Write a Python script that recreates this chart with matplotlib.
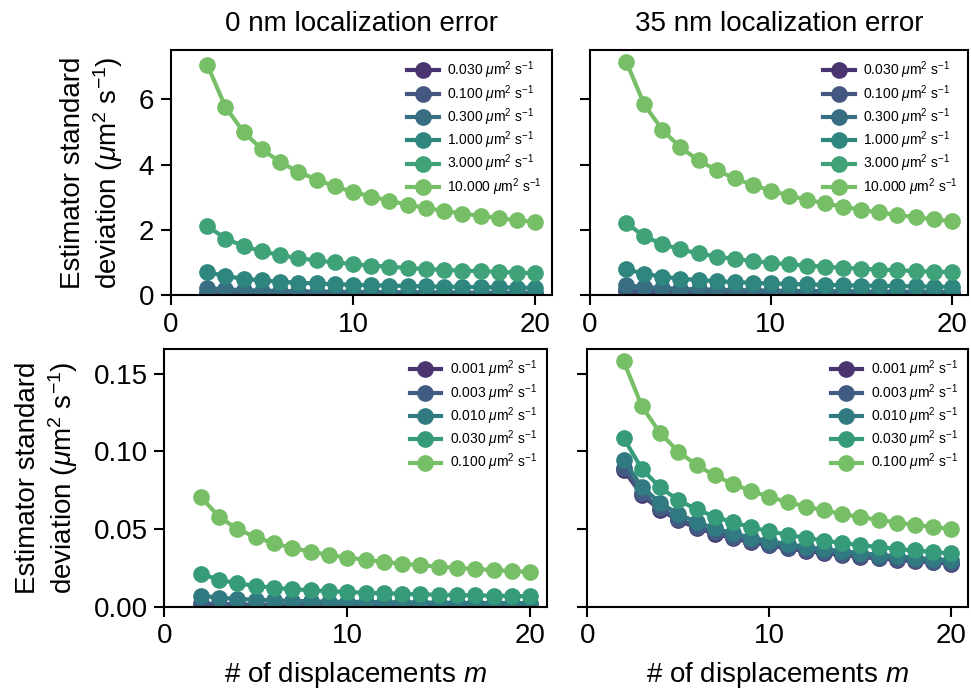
import numpy as np
import matplotlib
matplotlib.use("Agg")
import matplotlib.pyplot as plt
from matplotlib import cm
import colorsys

plt.rcParams["font.family"] = ["Liberation Sans", "DejaVu Sans"]
plt.rcParams["mathtext.fontset"] = "custom"
plt.rcParams["mathtext.rm"] = "Liberation Sans"
plt.rcParams["mathtext.it"] = "Liberation Sans:italic"
plt.rcParams["mathtext.bf"] = "Liberation Sans:bold"

# number of displacements
m_values = list(range(2, 21))

# diffusion coefficients (um^2/s)
d_high = [0.03, 0.1, 0.3, 1.0, 3.0, 10.0]
d_low = [0.001, 0.003, 0.01, 0.03, 0.1]

# estimator standard deviation, 0 nm localization error, high D
std_high_0nm = [
    [0.0212, 0.0173, 0.0150, 0.0134, 0.0122, 0.0113, 0.0106, 0.0100, 0.0095, 0.0090, 0.0087, 0.0083, 0.0080, 0.0077, 0.0075, 0.0073, 0.0071, 0.0069, 0.0067],
    [0.0707, 0.0577, 0.0500, 0.0447, 0.0408, 0.0378, 0.0354, 0.0333, 0.0316, 0.0302, 0.0289, 0.0277, 0.0267, 0.0258, 0.0250, 0.0243, 0.0236, 0.0229, 0.0224],
    [0.212, 0.173, 0.150, 0.134, 0.122, 0.113, 0.106, 0.100, 0.095, 0.090, 0.087, 0.083, 0.080, 0.077, 0.075, 0.073, 0.071, 0.069, 0.067],
    [0.707, 0.577, 0.500, 0.447, 0.408, 0.378, 0.354, 0.333, 0.316, 0.302, 0.289, 0.277, 0.267, 0.258, 0.250, 0.243, 0.236, 0.229, 0.224],
    [2.12, 1.73, 1.50, 1.34, 1.22, 1.13, 1.06, 1.00, 0.95, 0.90, 0.87, 0.83, 0.80, 0.77, 0.75, 0.73, 0.71, 0.69, 0.67],
    [7.07, 5.77, 5.00, 4.47, 4.08, 3.78, 3.54, 3.33, 3.16, 3.02, 2.89, 2.77, 2.67, 2.58, 2.50, 2.43, 2.36, 2.29, 2.24],
]

# estimator standard deviation, 35 nm localization error, high D
std_high_35nm = [
    [0.1085, 0.0886, 0.0768, 0.0686, 0.0627, 0.0580, 0.0543, 0.0512, 0.0485, 0.0463, 0.0443, 0.0426, 0.0410, 0.0396, 0.0384, 0.0372, 0.0362, 0.0352, 0.0343],
    [0.1580, 0.1290, 0.1118, 0.0999, 0.0912, 0.0845, 0.0790, 0.0745, 0.0707, 0.0674, 0.0645, 0.0620, 0.0597, 0.0577, 0.0559, 0.0542, 0.0527, 0.0513, 0.0500],
    [0.2995, 0.2445, 0.2118, 0.1894, 0.1729, 0.1601, 0.1497, 0.1412, 0.1339, 0.1277, 0.1223, 0.1175, 0.1132, 0.1094, 0.1059, 0.1027, 0.0998, 0.0972, 0.0947],
    [0.794, 0.649, 0.562, 0.502, 0.459, 0.425, 0.397, 0.374, 0.355, 0.339, 0.324, 0.312, 0.300, 0.290, 0.281, 0.272, 0.265, 0.258, 0.251],
    [2.209, 1.803, 1.562, 1.397, 1.275, 1.181, 1.104, 1.041, 0.988, 0.942, 0.902, 0.866, 0.835, 0.806, 0.781, 0.758, 0.736, 0.717, 0.698],
    [7.158, 5.845, 5.062, 4.527, 4.133, 3.827, 3.579, 3.375, 3.201, 3.052, 2.922, 2.808, 2.706, 2.614, 2.531, 2.455, 2.386, 2.322, 2.264],
]

# estimator standard deviation, 0 nm localization error, low D
std_low_0nm = [
    [0.00071, 0.00058, 0.00050, 0.00045, 0.00041, 0.00038, 0.00035, 0.00033, 0.00032, 0.00030, 0.00029, 0.00028, 0.00027, 0.00026, 0.00025, 0.00024, 0.00024, 0.00023, 0.00022],
    [0.0021, 0.0017, 0.0015, 0.0013, 0.0012, 0.0011, 0.0011, 0.0010, 0.00095, 0.00090, 0.00087, 0.00083, 0.00080, 0.00077, 0.00075, 0.00073, 0.00071, 0.00069, 0.00067],
    [0.0071, 0.0058, 0.0050, 0.0045, 0.0041, 0.0038, 0.0035, 0.0033, 0.0032, 0.0030, 0.0029, 0.0028, 0.0027, 0.0026, 0.0025, 0.0024, 0.0024, 0.0023, 0.0022],
    [0.0212, 0.0173, 0.0150, 0.0134, 0.0122, 0.0113, 0.0106, 0.0100, 0.0095, 0.0090, 0.0087, 0.0083, 0.0080, 0.0077, 0.0075, 0.0073, 0.0071, 0.0069, 0.0067],
    [0.0707, 0.0577, 0.0500, 0.0447, 0.0408, 0.0378, 0.0354, 0.0333, 0.0316, 0.0302, 0.0289, 0.0277, 0.0267, 0.0258, 0.0250, 0.0243, 0.0236, 0.0229, 0.0224],
]

# estimator standard deviation, 35 nm localization error, low D
std_low_35nm = [
    [0.0880, 0.0719, 0.0623, 0.0557, 0.0508, 0.0471, 0.0440, 0.0415, 0.0394, 0.0375, 0.0359, 0.0345, 0.0333, 0.0321, 0.0311, 0.0302, 0.0293, 0.0286, 0.0278],
    [0.0894, 0.0730, 0.0633, 0.0566, 0.0516, 0.0478, 0.0447, 0.0422, 0.0400, 0.0381, 0.0365, 0.0351, 0.0338, 0.0327, 0.0316, 0.0307, 0.0298, 0.0290, 0.0283],
    [0.0944, 0.0771, 0.0668, 0.0597, 0.0545, 0.0505, 0.0472, 0.0445, 0.0422, 0.0403, 0.0385, 0.0370, 0.0357, 0.0345, 0.0334, 0.0324, 0.0315, 0.0306, 0.0299],
    [0.1085, 0.0886, 0.0768, 0.0686, 0.0627, 0.0580, 0.0543, 0.0512, 0.0485, 0.0463, 0.0443, 0.0426, 0.0410, 0.0396, 0.0384, 0.0372, 0.0362, 0.0352, 0.0343],
    [0.1580, 0.1290, 0.1118, 0.0999, 0.0912, 0.0845, 0.0790, 0.0745, 0.0707, 0.0674, 0.0645, 0.0620, 0.0597, 0.0577, 0.0559, 0.0542, 0.0527, 0.0513, 0.0500],
]

titles = ["0 nm localization error", "35 nm localization error"]
ylabel = "Estimator standard\ndeviation ($\\mu$m$^2$ s$^{-1}$)"
xlabel = "# of displacements $m$"


def palette(n, lo=0.12, hi=0.78, sat=0.75):
    cols = []
    for v in np.linspace(lo, hi, n):
        r, g, b, _ = cm.viridis(v)
        h, l, s = colorsys.rgb_to_hls(r, g, b)
        cols.append(colorsys.hls_to_rgb(h, l, s * sat))
    return cols


W, H = 971, 696
fig = plt.figure(figsize=(W / 100, H / 100), dpi=100)


def px_axes(x0, x1, y0, y1):
    return fig.add_axes([x0 / W, 1 - y1 / H, (x1 - x0) / W, (y1 - y0) / H])


ax_tl = px_axes(170.7, 551.7, 50, 295)
ax_tr = px_axes(590, 968, 50, 295)
ax_bl = px_axes(164.3, 546.7, 349, 606.7)
ax_br = px_axes(587.3, 967.7, 349, 606.7)

panels = [
    (ax_tl, d_high, std_high_0nm),
    (ax_tr, d_high, std_high_35nm),
    (ax_bl, d_low, std_low_0nm),
    (ax_br, d_low, std_low_35nm),
]

for ax, dvals, series in panels:
    cols = palette(len(dvals))
    for d, ys, c in zip(dvals, series, cols):
        ax.plot(m_values, ys, "-o", color=c, lw=3, ms=11, mew=1,
                label=f"{d:.3f} $\\mu$m$^2$ s$^{{-1}}$")
    ax.legend(loc="upper right", frameon=False, fontsize=10,
              handlelength=2.3, handletextpad=0.6, labelspacing=0.12,
              borderaxespad=0.3)
    ax.tick_params(labelsize=20, length=7, width=1.5, pad=5)
    for sp in ax.spines.values():
        sp.set_linewidth(1.5)
    ax.set_xlim(0, 20.9)
    ax.set_xticks([0, 10, 20])

# shared y-ranges per row
top_max = max(max(s) for s in std_high_35nm + std_high_0nm)
low_max = max(max(s) for s in std_low_35nm + std_low_0nm)
for ax in (ax_tl, ax_tr):
    ax.set_ylim(0, top_max * 1.05)
    ax.set_yticks([0, 2, 4, 6])
for ax in (ax_bl, ax_br):
    ax.set_ylim(0, low_max * 1.05)
    ax.set_yticks([0, 0.05, 0.10, 0.15])
ax_bl.set_yticklabels(["0.00", "0.05", "0.10", "0.15"])
ax_tr.set_yticklabels([])
ax_br.set_yticklabels([])

ax_tl.set_title(titles[0], fontsize=20, pad=14)
ax_tr.set_title(titles[1], fontsize=20, pad=14)
ax_tl.set_ylabel(ylabel, fontsize=20, labelpad=10)
ax_bl.set_ylabel(ylabel, fontsize=20, labelpad=10)
ax_bl.set_xlabel(xlabel, fontsize=20, labelpad=8)
ax_br.set_xlabel(xlabel, fontsize=20, labelpad=8)

fig.savefig("out.png", dpi=100)
